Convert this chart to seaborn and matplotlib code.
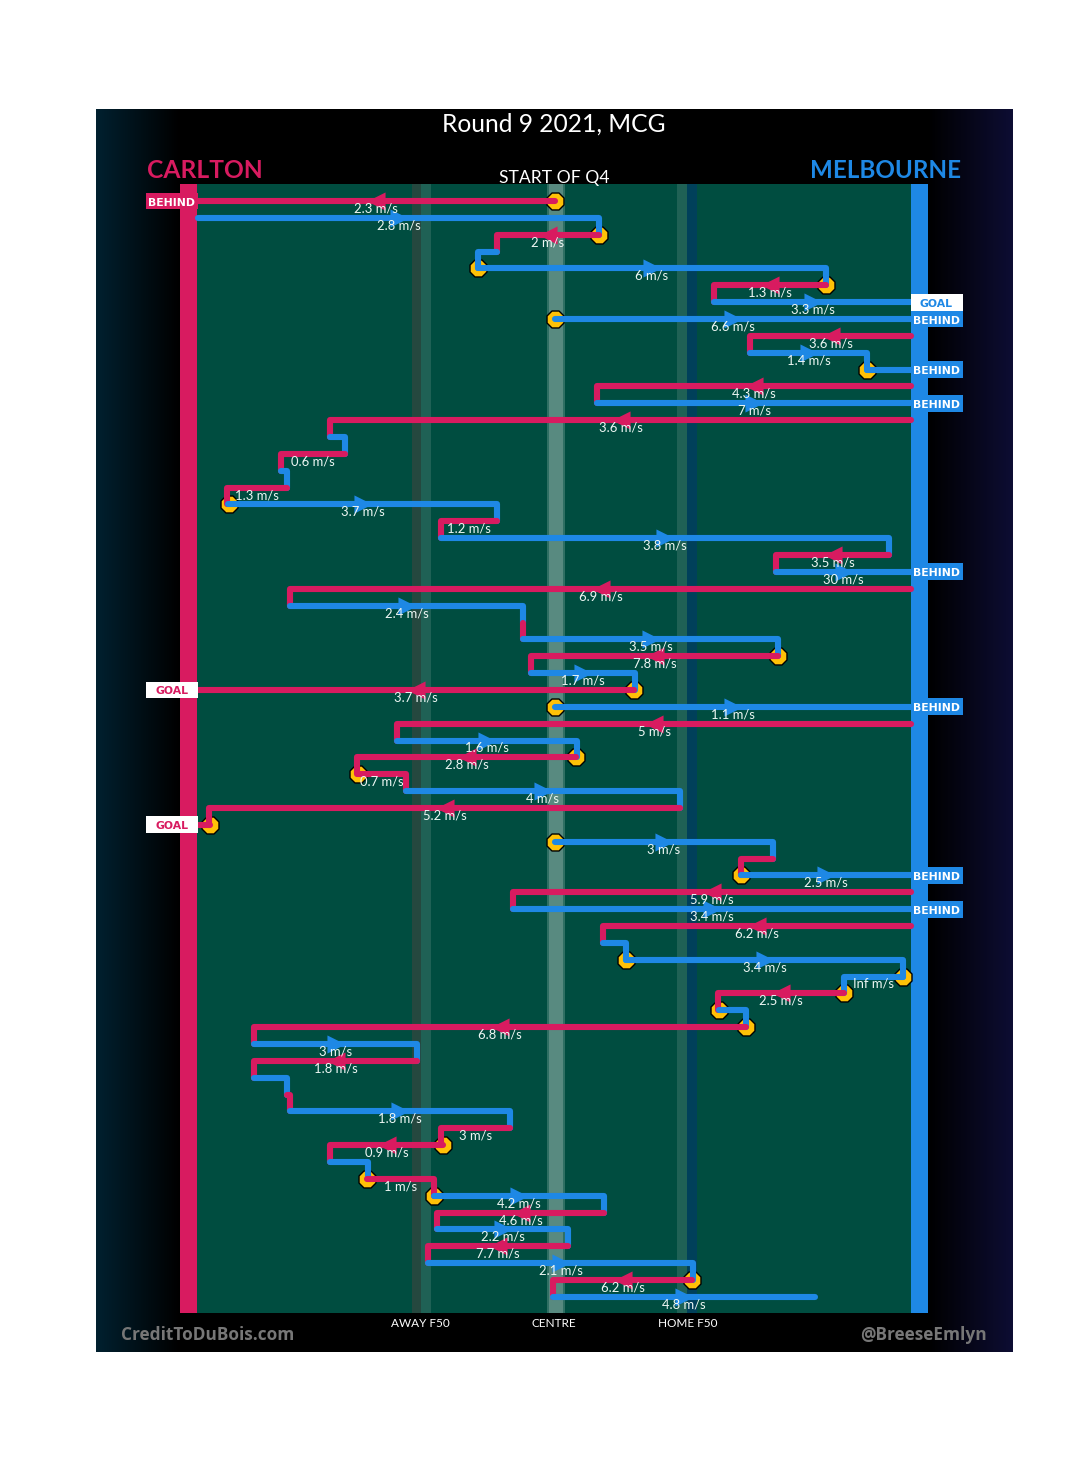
import numpy as np
import pandas as pd
import matplotlib
matplotlib.use("Agg")
import matplotlib.pyplot as plt
from matplotlib.patches import Rectangle
from matplotlib.colors import to_rgb
import seaborn as sns

# one entry per row of the chart, top to bottom
leg_team = ["C","M","C","M","M","C","M","M","C","M","M","C","M","C","M","C","M","C","M","C",
            "M","C","M","C","M","C","M","C","M","C","M","C","M","C","C","M","C","C","M","C",
            "M","C","M","C","M","M","M","C","M","C","M","C","M","C","M","C","C","M","C","M",
            "C","M","C","M","C","M"]
leg_start = [555,198,599,497,478,826,714,555,911,750,867,911,597,911,330,345,281,287,228,497,
             441,889,776,911,290,523,523,778,531,634,555,911,397,576,358,406,680,210,555,773,
             741,911,513,911,603,626,903,844,719,746,254,417,254,287,290,510,443,330,367,434,
             604,437,568,428,692,553]
leg_end = [197,599,497,478,826,714,911,911,750,867,911,597,911,330,345,281,287,227,497,441,
           889,776,911,290,523,523,778,531,635,197,911,397,577,357,406,680,209,197,773,741,
           911,513,911,603,626,903,844,718,746,254,417,254,287,290,510,441,330,368,434,604,
           437,568,428,693,553,815]
leg_speed = ["2.3","2.8","2","","6","1.3","3.3","6.6","3.6","1.4","","4.3","7","3.6","","0.6","","1.3","3.7","1.2",
             "3.8","3.5","30","6.9","2.4","","3.5","7.8","1.7","3.7","1.1","5","1.6","2.8","0.7","4","5.2","","3","",
             "2.5","5.9","3.4","6.2","","3.4","Inf","2.5","","6.8","3","1.8","","","1.8","3","0.9","","1","4.2",
             "4.6","2.2","7.7","2.1","6.2","4.8"]
no_link_rows = [0, 6, 7, 10, 12, 22, 29, 30, 37, 40, 42, 65]

stop_row = [0,2,4,5,7,10,18,27,29,30,33,34,37,38,40,45,46,47,48,49,56,58,59,64]
stop_x = [555,599,478,826,555,867,229,778,634,555,576,358,210,555,741,626,903,844,719,746,443,367,434,692]

tag_row = [0,29,37,6,7,10,12,22,30,40,42]
tag_side = ["C","C","C","M","M","M","M","M","M","M","M"]
tag_text = ["BEHIND","GOAL","GOAL","GOAL","BEHIND","BEHIND","BEHIND","BEHIND","BEHIND","BEHIND","BEHIND"]

zone_names = ["AWAY F50", "CENTRE", "HOME F50"]
zone_x = [420, 554, 688]

RED = "#d81b60"
BLUE = "#1e88e5"
team_colour = {"C": RED, "M": BLUE}
FONT = "Lato"

row_top = 201
row_gap = 16.86


def py(px):
    return (px - row_top) / row_gap


sns.set_theme(style="white")
plt.rcParams["font.family"] = [FONT, "DejaVu Sans"]

fig = plt.figure(figsize=(10.8, 14.75), dpi=100, facecolor="white")
ax = fig.add_axes([0, 0, 1, 1])

# black panel with the coloured fade at both sides
ramp = np.zeros((2, 917, 3))
ramp[:, :84] = np.linspace(to_rgb("#01202f"), (0, 0, 0), 84)
ramp[:, 832:] = np.linspace((0, 0, 0), to_rgb("#0d0d33"), 85)
ax.imshow(ramp, extent=(96, 1013, py(1352), py(109)), aspect="auto", zorder=0)

# ground and the vertical bands
def band(x0, x1, colour, z=2):
    ax.add_patch(Rectangle((x0, py(184)), x1 - x0, py(1313) - py(184), color=colour, lw=0, zorder=z))


band(197, 911, "#004d40", 1)
band(412, 421, "#25483f")
band(421, 431, "#1f6155")
band(547, 565, "#2f6f63")
band(549, 563, "#588a80")
band(677, 687, "#1f6155")
band(687, 697, "#00405a")
band(180, 197, RED, 3)
band(911, 928, BLUE, 3)

# stoppage points under the lines
sns.scatterplot(x=stop_x, y=[float(r) for r in stop_row], marker="8", s=175, color="#ffc107",
                edgecolor="black", linewidth=1, ax=ax, legend=False, zorder=4)

# chains of play
for i, team in enumerate(leg_team):
    path_x = [leg_start[i], leg_end[i]]
    path_y = [i, i]
    if i not in no_link_rows:
        path_x.append(leg_end[i])
        path_y.append(i + 1)
    leg = pd.DataFrame({"x": path_x, "y": path_y})
    sns.lineplot(data=leg, x="x", y="y", sort=False, estimator=None, color=team_colour[team],
                 linewidth=4.4, ax=ax, legend=False, zorder=5 + i * 0.01,
                 solid_capstyle="round", solid_joinstyle="round")

# direction arrows and speed labels, centred on each leg
for i, speed in enumerate(leg_speed):
    if speed == "":
        continue
    mid = (leg_start[i] + leg_end[i]) / 2
    if abs(leg_end[i] - leg_start[i]) > 80:
        arrow = ">" if leg_end[i] > leg_start[i] else "<"
        sns.scatterplot(x=[mid], y=[float(i)], marker=arrow, s=170, color=team_colour[leg_team[i]],
                        linewidth=0, ax=ax, legend=False, zorder=6)
    ax.text(mid, i + 0.44, speed + " m/s", color="#eef7f4", fontsize=9.4, ha="center", va="center", zorder=7)

# BEHIND / GOAL tags
for r, side, txt in zip(tag_row, tag_side, tag_text):
    colour = team_colour[side]
    face = "white" if txt == "GOAL" else colour
    ink = colour if txt == "GOAL" else "white"
    x0 = 146 if side == "C" else 911
    ax.add_patch(Rectangle((x0, r - 0.5), 52, 1, color=face, lw=0, zorder=8))
    ax.text(x0 + 25.5, r + 0.09, txt, color=ink, fontsize=7.8, fontweight="bold", family="DejaVu Sans",
            ha="center", va="center", zorder=9)

# titles and footer
ax.text(554, py(124), "Round 9 2021, MCG", color="white", fontsize=17.7, ha="center", va="center", zorder=9)
ax.text(554, py(177.5), "START OF Q4", color="white", fontsize=12.6, ha="center", va="center", zorder=9)
ax.text(147, py(170), "CARLTON", color=RED, fontsize=17.7, fontweight="bold", ha="left", va="center", zorder=9)
ax.text(961, py(170), "MELBOURNE", color=BLUE, fontsize=17.4, fontweight="bold", ha="right", va="center", zorder=9)
for name, x in zip(zone_names, zone_x):
    ax.text(x, py(1323.5), name, color="white", fontsize=8.5, ha="center", va="center", zorder=9)
ax.text(121, py(1335), "CreditToDuBois.com", color="#777777", fontsize=12.4, fontweight="bold",
        family="Open Sans", ha="left", va="center", zorder=9)
ax.text(987, py(1335), "@BreeseEmlyn", color="#777777", fontsize=12.4, fontweight="bold",
        family="Open Sans", ha="right", va="center", zorder=9)

ax.set_xlim(0, 1080)
ax.set_ylim(py(1475), py(0))
ax.axis("off")

fig.savefig("out.png", dpi=100, facecolor="white")
